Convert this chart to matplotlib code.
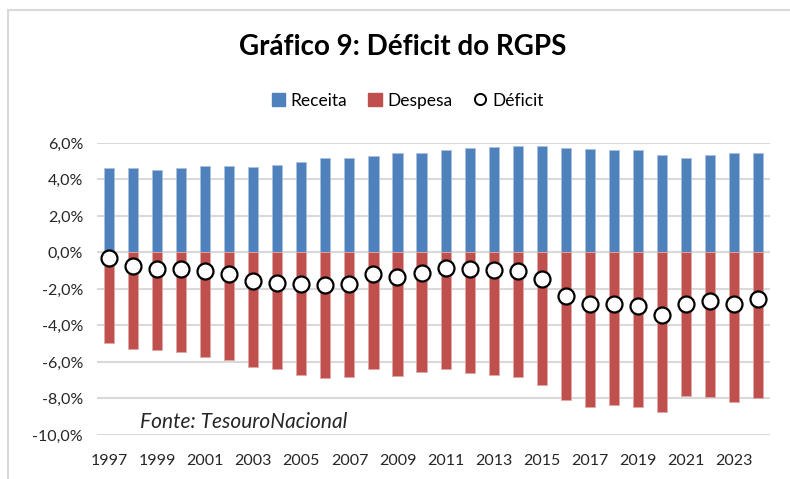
import matplotlib.pyplot as plt
from matplotlib.patches import Rectangle
from matplotlib.lines import Line2D
import matplotlib.ticker as mticker

anos = list(range(1997, 2025))
receita = [4.62, 4.62, 4.51, 4.62, 4.74, 4.74, 4.67, 4.82, 4.96, 5.15, 5.15, 5.27, 5.44, 5.44,
           5.60, 5.73, 5.78, 5.84, 5.84, 5.73, 5.66, 5.60, 5.60, 5.33, 5.15, 5.33, 5.44, 5.44]
despesa = [-4.97, -5.30, -5.37, -5.48, -5.72, -5.89, -6.25, -6.40, -6.71, -6.87, -6.82, -6.40, -6.76, -6.53,
           -6.40, -6.58, -6.71, -6.82, -7.28, -8.08, -8.45, -8.37, -8.48, -8.72, -7.86, -7.92, -8.21, -7.97]
deficit = [-0.31, -0.73, -0.91, -0.90, -1.02, -1.17, -1.59, -1.66, -1.75, -1.77, -1.70, -1.17, -1.32, -1.13,
           -0.84, -0.91, -0.95, -1.02, -1.46, -2.41, -2.81, -2.81, -2.92, -3.43, -2.81, -2.65, -2.81, -2.56]

plt.rcParams['font.family'] = ['Lato', 'DejaVu Sans']

azul = '#4F81BD'
vermelho = '#C0504D'

fig = plt.figure(figsize=(7.9, 4.79), dpi=100)
ax = fig.add_axes([0.1228, 0.0919, 0.852, 0.6096])

x = list(range(len(anos)))
ax.bar(x, receita, width=0.42, color=azul, edgecolor='#A9C0DE', linewidth=0.6, zorder=2)
ax.bar(x, despesa, width=0.42, color=vermelho, edgecolor='#E0A8A6', linewidth=0.6, zorder=2)
ax.plot(x, deficit, 'o', markersize=11.5, markerfacecolor='white', markeredgecolor='black',
        markeredgewidth=1.6, zorder=3)

ax.set_xlim(-0.5, len(anos) - 0.5)
ax.set_ylim(-10, 6)
ax.set_yticks(range(-10, 7, 2))
ax.yaxis.set_major_formatter(mticker.FuncFormatter(lambda v, p: f'{v:.1f}%'.replace('.', ',')))
ax.set_xticks(x[::2])
ax.set_xticklabels([str(a) for a in anos[::2]])
ax.tick_params(axis='both', length=0, labelsize=11.5, colors='#262626')
ax.tick_params(axis='x', pad=14)
ax.tick_params(axis='y', pad=10)
ax.grid(axis='y', color='#D9D9D9', linewidth=1.5, zorder=0)
ax.set_axisbelow(True)
for s in ax.spines.values():
    s.set_visible(False)

ax.text(0.064, 0.045, 'Fonte: TesouroNacional', transform=ax.transAxes, fontsize=15,
        style='italic', color='#262626', va='center')

fig.text(0.51, 0.902, 'Gráfico 9: Déficit do RGPS', ha='center', va='center',
         fontsize=20, fontweight='bold', color='black')

handles = [
    Rectangle((0, 0), 1, 1, color=azul),
    Rectangle((0, 0), 1, 1, color=vermelho),
    Line2D([], [], marker='o', linestyle='none', markersize=8, markerfacecolor='white',
           markeredgecolor='black', markeredgewidth=1.4),
]
fig.legend(handles, ['Receita', 'Despesa', 'Déficit'], loc='center', bbox_to_anchor=(0.516, 0.79),
           ncol=3, frameon=False, fontsize=12.5, handlelength=0.8, handleheight=0.8,
           handletextpad=0.3, columnspacing=1.2)

# borda do gráfico
fig.patches.append(Rectangle((8 / 790, -0.05), 1.0, 1 - 10 / 479 + 0.05, transform=fig.transFigure,
                             fill=False, edgecolor='#D9D9D9', linewidth=1.5))

fig.savefig('out.png', dpi=100)
